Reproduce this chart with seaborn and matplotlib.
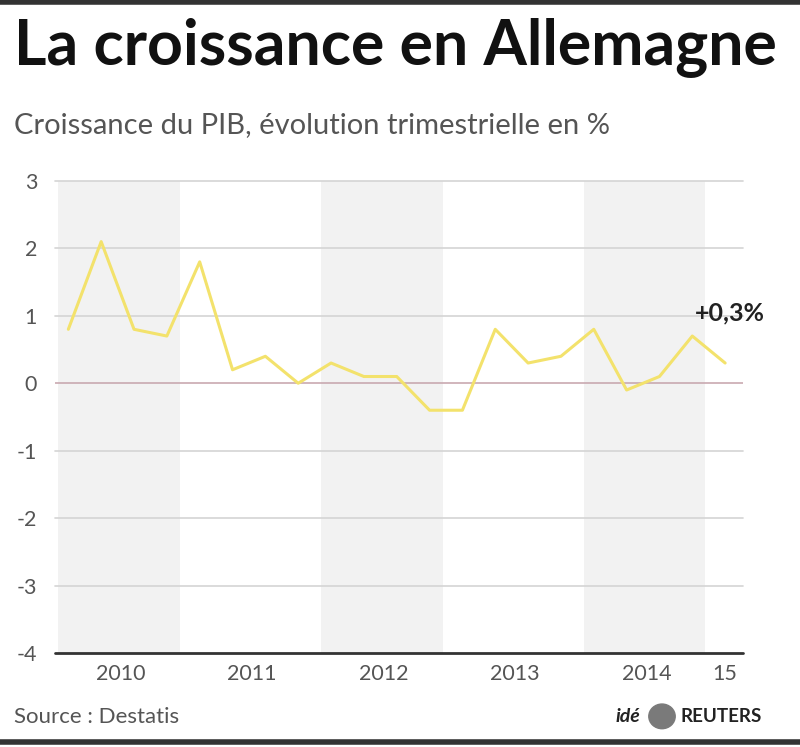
import pandas as pd
import matplotlib
matplotlib.use("Agg")
import matplotlib.pyplot as plt
import seaborn as sns

# quarterly GDP growth, Germany, Q1 2010 - Q1 2015 (%)
growth = [0.8, 2.1, 0.8, 0.7, 1.8, 0.2, 0.4, 0.0, 0.3, 0.1, 0.1, -0.4, -0.4,
          0.8, 0.3, 0.4, 0.8, -0.1, 0.1, 0.7, 0.3]
year_labels = ["2010", "2011", "2012", "2013", "2014", "15"]
shaded_years = [0, 2, 4]          # 2010, 2012, 2014 (index in year_labels)
y_ticks = [3, 2, 1, 0, -1, -2, -3, -4]

df = pd.DataFrame({"q": range(len(growth)), "growth": growth})

sns.set_style("white")
plt.rcParams["font.family"] = ["Lato", "DejaVu Sans"]

fig = plt.figure(figsize=(8, 7.47), dpi=100)
ax = fig.add_axes([0.069, 0.1258, 0.86, 0.632])

# alternate year shading
for k in shaded_years:
    ax.axvspan(4 * k - 0.3, 4 * k + 3.4, color="#f2f2f2", zorder=0, lw=0)

for t in y_ticks:
    if t == 0:
        ax.axhline(t, color="#c9a9b0", lw=1.2, zorder=1)
    elif t == -4:
        ax.axhline(t, color="#333333", lw=2, zorder=1, clip_on=False)
    else:
        ax.axhline(t, color="#d4d4d4", lw=1.2, zorder=1, clip_on=False)

sns.lineplot(data=df, x="q", y="growth", color="#f3e26c", lw=2.2, ax=ax, zorder=3)

ax.set_xlim(-0.4, 20.55)
ax.set_ylim(-4, 3)
ax.set_yticks(y_ticks)
ax.set_yticklabels([str(t) for t in y_ticks])
xt = [4 * k + 1.6 for k in range(5)] + [20]
ax.set_xticks(xt)
ax.set_xticklabels(year_labels)
ax.tick_params(axis="both", length=0, labelsize=15.5, labelcolor="#555555")
ax.tick_params(axis="y", pad=13)
ax.tick_params(axis="x", pad=8)
ax.set_xlabel("")
ax.set_ylabel("")
for s in ax.spines.values():
    s.set_visible(False)

ax.text(20.15, 1.05, "+0,3%", fontsize=18, fontweight="bold", color="#222222",
        ha="center", va="center")

fig.text(0.018, 0.937, "La croissance en Allemagne", fontsize=45,
         fontweight="bold", color="#111111", va="center", ha="left")
fig.text(0.018, 0.833, "Croissance du PIB, évolution trimestrielle en %",
         fontsize=21, color="#555555", va="center", ha="left")
fig.text(0.018, 0.04, "Source : Destatis", fontsize=16, color="#555555",
         va="center", ha="left")
fig.text(0.770, 0.041, "idé", fontsize=14, fontweight="bold", style="italic",
         color="#222222", va="center", ha="left")
fig.add_artist(plt.Circle((0.8275, 0.041), 0.0165, transform=fig.transFigure,
                          color="#7a7a7a"))
fig.text(0.851, 0.041, "REUTERS", fontsize=13.5, fontweight="bold",
         color="#222222", va="center", ha="left")

fig.add_artist(plt.Line2D([0, 1], [0.997, 0.997], color="#333333", lw=4))
fig.add_artist(plt.Line2D([0, 1], [0.007, 0.007], color="#333333", lw=4))

fig.savefig("out.png", dpi=100, facecolor="white")
